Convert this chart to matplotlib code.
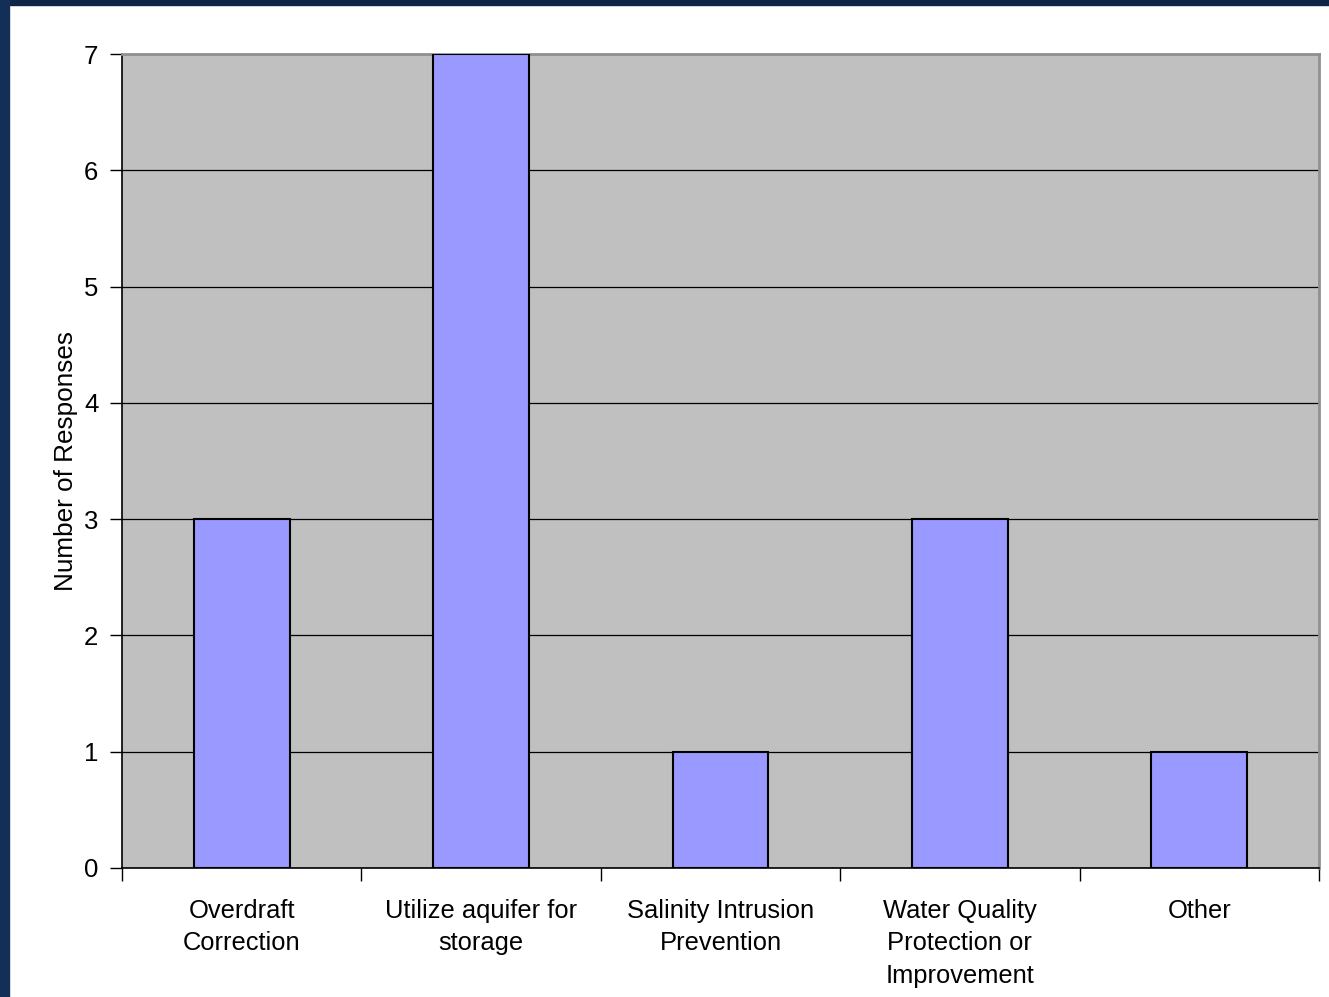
import matplotlib.pyplot as plt
from matplotlib.patches import Rectangle
import numpy as np

plt.rcParams['font.family'] = ['Liberation Sans', 'DejaVu Sans']

categories = ['Overdraft\nCorrection', 'Utilize aquifer for\nstorage', 'Salinity Intrusion\nPrevention',
              'Water Quality\nProtection or\nImprovement', 'Other']
responses = [3, 7, 1, 3, 1]

fig = plt.figure(figsize=(13.29, 9.97), dpi=100)
ax = fig.add_axes([0.0918, 0.1294, 0.9007, 0.8164])

# dark frame along top and left edge
fig.patches.append(Rectangle((0, 0.995), 1, 0.005, transform=fig.transFigure, color='#0f2548', zorder=0))
fig.patches.append(Rectangle((0, 0), 0.0068, 1, transform=fig.transFigure, color='#132f58', zorder=0))

x = np.arange(len(categories))
ax.set_facecolor('#c0c0c0')
ax.bar(x, responses, width=0.4, color='#9999ff', edgecolor='black', linewidth=1.5, zorder=3)

ax.set_xlim(-0.5, len(categories) - 0.5)
ax.set_ylim(0, 7)
ax.set_yticks(range(0, 8))
ax.grid(axis='y', color='black', linewidth=0.9, zorder=1)
ax.set_axisbelow(True)

ax.set_xticks(x)
ax.set_xticklabels(categories, fontsize=18.4, linespacing=1.45)
ax.set_xticks(np.arange(-0.5, len(categories)), minor=True)
ax.tick_params(axis='x', which='major', length=0, pad=22)
ax.tick_params(axis='x', which='minor', length=9, width=1)
ax.tick_params(axis='y', length=9, width=1, labelsize=18.5, pad=8)

ax.set_ylabel('Number of Responses', fontsize=18.8, labelpad=4)

for side in ['left', 'bottom']:
    ax.spines[side].set_color('black')
    ax.spines[side].set_linewidth(1.2)
for side in ['top', 'right']:
    ax.spines[side].set_color('#909090')
    ax.spines[side].set_linewidth(2)

fig.savefig('out.png', dpi=100)
